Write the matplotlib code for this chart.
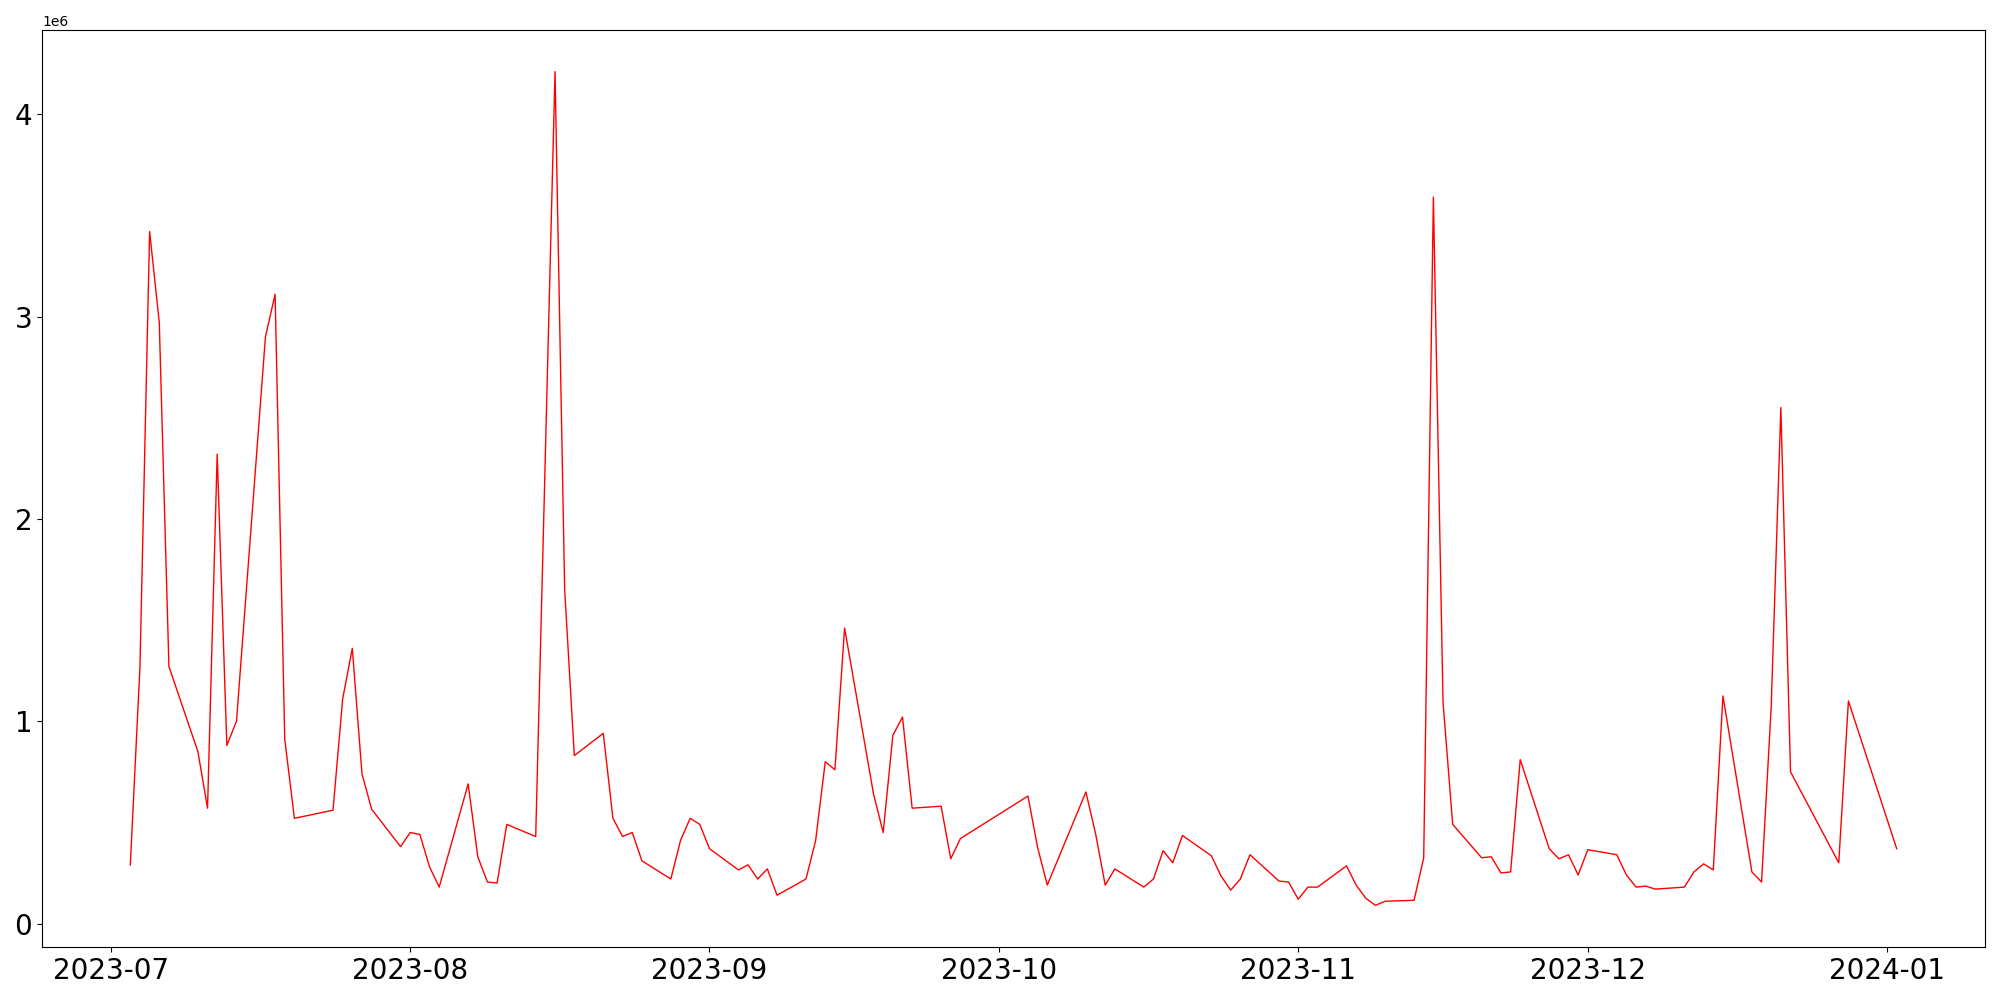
import matplotlib
matplotlib.use("Agg")
import matplotlib.pyplot as plt
import matplotlib.dates as mdates
import pandas as pd
import numpy as np

# Korean market holidays in the period
holidays = ["2023-08-15", "2023-09-28", "2023-09-29", "2023-10-02", "2023-10-03",
            "2023-10-09", "2023-12-25", "2023-12-29", "2024-01-01"]
start_date = "2023-07-03"
end_date = "2024-01-02"

# values in millions
jul = [0.29, 1.27, 3.42, 2.97, 1.27, 0.85, 0.57, 2.32, 0.88, 1.00, 2.90, 3.11, 0.91,
       0.52, 0.53, 0.56, 1.11, 1.36, 0.74, 0.565, 0.38]
aug = [0.45, 0.44, 0.28, 0.18, 0.69, 0.33, 0.205, 0.20, 0.49, 0.43, 4.21, 1.65, 0.83,
       0.94, 0.52, 0.43, 0.45, 0.31, 0.22, 0.41, 0.52, 0.49]
sep = [0.37, 0.265, 0.29, 0.22, 0.27, 0.14, 0.22, 0.41, 0.80, 0.76, 1.46, 0.64, 0.45,
       0.93, 1.02, 0.57, 0.58, 0.32, 0.42]
oct_ = [0.63, 0.375, 0.19, 0.65, 0.445, 0.19, 0.27, 0.18, 0.22, 0.36, 0.30, 0.435,
        0.335, 0.235, 0.165, 0.22, 0.34, 0.21, 0.205]
nov = [0.12, 0.18, 0.18, 0.285, 0.19, 0.125, 0.09, 0.11, 0.115, 0.325, 3.59, 1.095,
       0.49, 0.325, 0.33, 0.25, 0.255, 0.81, 0.37, 0.32, 0.34, 0.24]
dec = [0.365, 0.34, 0.24, 0.18, 0.185, 0.17, 0.18, 0.255, 0.295, 0.265, 1.125, 0.255,
       0.205, 1.07, 2.55, 0.75, 0.39, 0.30, 1.10]
jan = [0.37]

dates = pd.bdate_range(start_date, end_date, freq="C", holidays=holidays)
values = np.array(jul + aug + sep + oct_ + nov + dec + jan) * 1e6
assert len(dates) == len(values), (len(dates), len(values))

fig, ax = plt.subplots(figsize=(20, 10), dpi=100)
ax.plot(dates, values, color="red", linewidth=1.0)
ax.xaxis.set_major_locator(mdates.MonthLocator())
ax.xaxis.set_major_formatter(mdates.DateFormatter("%Y-%m"))
ax.tick_params(axis="both", labelsize=20)
fig.subplots_adjust(left=0.021, right=0.9925, top=0.97, bottom=0.053)
fig.savefig("out.png")
